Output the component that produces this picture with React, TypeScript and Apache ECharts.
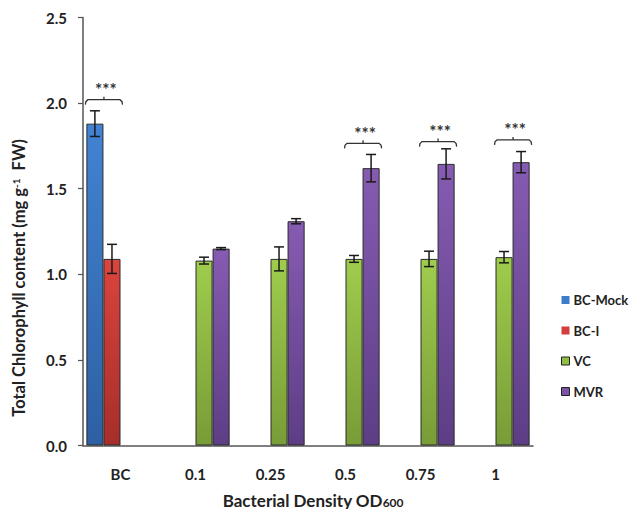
import React, { useEffect, useRef } from 'react';
import * as echarts from 'echarts';

const categories = ['BC', '0.1', '0.25', '0.5', '0.75', '1'];
const seriesNames = ['BC-Mock', 'BC-I', 'VC', 'MVR'];
const bcMock = [1.88, null, null, null, null, null];
const bcMockErr = [0.075, null, null, null, null, null];
const bcI = [1.09, null, null, null, null, null];
const bcIErr = [0.085, null, null, null, null, null];
const vc = [null, 1.08, 1.09, 1.09, 1.09, 1.10];
const vcErr = [null, 0.02, 0.07, 0.02, 0.045, 0.033];
const mvr = [null, 1.15, 1.31, 1.62, 1.645, 1.655];
const mvrErr = [null, 0.006, 0.015, 0.08, 0.088, 0.062];

const sigCats = [0, 3, 4, 5];
const sigY = [2.02, 1.765, 1.775, 1.785];
const sigSlotStart = [0, 2, 2, 2];
const sigSlotEnd = [2, 4, 4, 4];
const sigLabels = ['***', '***', '***', '***'];

const yMin = 0;
const yMax = 2.5;
const yInterval = 0.5;

const GAP = 0.09;
const FONT = 'Lato, "Open Sans", "DejaVu Sans", sans-serif';

const topColors = ['#4283D2', '#DA443E', '#9FCC4D', '#865BB2'];
const bottomColors = ['#2D60A3', '#A62E2A', '#789C37', '#5D3E85'];
const legendColors = ['#3C7CCB', '#D23E3A', '#8FC043', '#7A54A8'];

export default function App() {
  const ref = useRef<HTMLDivElement>(null);
  useEffect(() => {
    document.body.style.margin = '0';
    if (!ref.current) return;
    const chart = echarts.init(ref.current, undefined, { renderer: 'svg' });
    const values = [bcMock, bcI, vc, mvr];
    const errs = [bcMockErr, bcIErr, vcErr, mvrErr];

    const barSeries = seriesNames.map((name, i) => ({
      name,
      type: 'bar',
      data: values[i],
      barGap: '0%',
      barCategoryGap: (GAP * 100) + '%',
      itemStyle: {
        color: new echarts.graphic.LinearGradient(0, 0, 0, 1, [
          { offset: 0, color: topColors[i] },
          { offset: 1, color: bottomColors[i] },
        ]),
        borderColor: '#2a2a2a',
        borderWidth: 1,
      },
      z: 2,
    }));

    const errSeries = seriesNames.map((name, slot) => {
      const data: number[][] = [];
      values[slot].forEach((v, ci) => {
        if (v != null && errs[slot][ci] != null) data.push([ci, v as number, errs[slot][ci] as number]);
      });
      return {
        type: 'custom',
        name: name + '-err',
        data,
        z: 5,
        silent: true,
        itemStyle: { color: '#1a1a1a' },
        renderItem: (params: any, api: any) => {
          const ci = api.value(0);
          const v = api.value(1);
          const e = api.value(2);
          const band = api.size([1, 0])[0];
          const inner = band * (1 - GAP);
          const slotW = inner / 4;
          const c = api.coord([ci, v]);
          const x = c[0] - inner / 2 + (slot + 0.5) * slotW;
          const yT = api.coord([ci, v + e])[1];
          const yB = api.coord([ci, v - e])[1];
          const cap = 5;
          const st = { stroke: '#1a1a1a', lineWidth: 1.5 };
          return {
            type: 'group',
            children: [
              { type: 'line', shape: { x1: x, y1: yT, x2: x, y2: yB }, style: st },
              { type: 'line', shape: { x1: x - cap, y1: yT, x2: x + cap, y2: yT }, style: st },
              { type: 'line', shape: { x1: x - cap, y1: yB, x2: x + cap, y2: yB }, style: st },
            ],
          };
        },
      };
    });

    const sigData = sigCats.map((c, i) => [c, sigY[i], sigSlotStart[i], sigSlotEnd[i], i]);
    const sigSeries = {
      type: 'custom',
      name: 'sig',
      data: sigData,
      z: 6,
      silent: true,
      itemStyle: { color: '#333333' },
      renderItem: (params: any, api: any) => {
        const ci = api.value(0);
        const y0 = api.value(1);
        const s0 = api.value(2);
        const s1 = api.value(3);
        const idx = api.value(4);
        const band = api.size([1, 0])[0];
        const inner = band * (1 - GAP);
        const slotW = inner / 4;
        const c = api.coord([ci, y0]);
        const L = c[0] - inner / 2 + s0 * slotW - 1;
        const R = c[0] - inner / 2 + s1 * slotW + 2;
        const y = c[1];
        const M = (L + R) / 2;
        const st = { stroke: '#333', lineWidth: 1.3, fill: null };
        return {
          type: 'group',
          children: [
            {
              type: 'polyline',
              shape: { points: [[L, y + 5], [L + 0.5, y + 2], [L + 2.5, y], [R - 2.5, y], [R - 0.5, y + 2], [R, y + 5]] },
              style: st,
            },
            { type: 'line', shape: { x1: M, y1: y, x2: M, y2: y - 3 }, style: st },
            {
              type: 'text',
              style: {
                x: M + 2,
                y: y - 10,
                text: sigLabels[idx],
                fontSize: 17,
                fontFamily: FONT,
                fontWeight: 'bold',
                fill: '#333333',
                align: 'center',
                verticalAlign: 'middle',
              },
            },
          ],
        };
      },
    };

    chart.setOption({
      animation: false,
      backgroundColor: '#ffffff',
      grid: { left: 83, right: 98, top: 17.5, bottom: 63.5, containLabel: false },
      legend: {
        orient: 'vertical',
        left: 556,
        top: 288,
        icon: 'rect',
        itemWidth: 8,
        itemHeight: 8,
        itemGap: 16.5,
        textStyle: { fontFamily: FONT, fontSize: 13, fontWeight: 'bold', color: '#222', lineHeight: 14, padding: [0, 0, 0, -1] },
        data: seriesNames.map((n, i) => ({
          name: n,
          itemStyle: i < 2
            ? { color: legendColors[i], borderWidth: 0 }
            : { color: legendColors[i], borderColor: '#222', borderWidth: 1 },
        })),
      },
      xAxis: {
        type: 'category',
        data: categories,
        axisLine: { show: true, lineStyle: { color: '#555', width: 1.5 } },
        axisTick: { show: false },
        axisLabel: { fontFamily: FONT, fontSize: 15, fontWeight: 'bold', color: '#222', margin: 21 },
        splitLine: { show: false },
      },
      yAxis: {
        type: 'value',
        min: yMin,
        max: yMax,
        interval: yInterval,
        axisLine: { show: true, lineStyle: { color: '#555', width: 1.5 } },
        axisTick: { show: true, length: 5, lineStyle: { color: '#555', width: 1.2 } },
        axisLabel: {
          fontFamily: FONT,
          fontSize: 15,
          fontWeight: 'bold',
          color: '#222',
          margin: 16,
          formatter: (v: number) => v.toFixed(1),
        },
        splitLine: { show: false },
      },
      graphic: [
        {
          type: 'text',
          x: 19,
          y: 278,
          rotation: Math.PI / 2,
          style: {
            text: '{a|Total Chlorophyll content (mg g}{s|-1}{a|  FW)}',
            align: 'center',
            verticalAlign: 'middle',
            rich: {
              a: { fontFamily: FONT, fontSize: 16.5, fontWeight: 'bold', fill: '#222' },
              s: { fontFamily: FONT, fontSize: 10, fontWeight: 'bold', fill: '#222', verticalAlign: 'top' },
            },
          },
        },
        {
          type: 'text',
          x: 313,
          y: 500,
          style: {
            text: '{a|Bacterial Density OD}{b|600}',
            align: 'center',
            verticalAlign: 'middle',
            rich: {
              a: { fontFamily: FONT, fontSize: 17, fontWeight: 'bold', fill: '#222' },
              b: { fontFamily: FONT, fontSize: 12, fontWeight: 'bold', fill: '#222', verticalAlign: 'bottom' },
            },
          },
        },
      ],
      series: [...barSeries, ...errSeries, sigSeries],
    });
    return () => chart.dispose();
  }, []);
  return <div ref={ref} style={{ width: 631, height: 509, position: 'fixed', left: 0, top: 0 }} />;
}
